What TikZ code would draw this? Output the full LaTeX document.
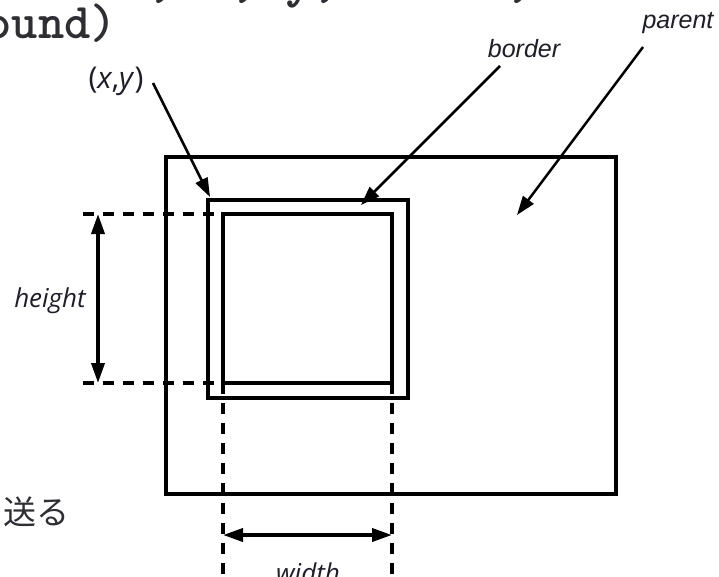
\documentclass[tikz,border=0pt]{standalone}
\usepackage{fontspec}
\usetikzlibrary{arrows.meta}
\setmainfont{Liberation Sans}
\newfontfamily\lblfont{Liberation Sans}
\newfontfamily\dimfont{Open Sans}
\newfontfamily\jpfont{Noto Sans CJK JP}
\definecolor{ink}{HTML}{1E1E28}
\definecolor{codeink}{HTML}{2E2E33}
\begin{document}
\begin{tikzpicture}[x=1pt,y=-1pt,
  frame/.style={draw, line width=3.2pt, inner sep=0pt, outer sep=0pt},
  wbox/.style={draw, line width=4pt, inner sep=0pt, outer sep=0pt},
  dashln/.style={line width=3.6pt, dash pattern=on 11pt off 9pt},
  solidln/.style={line width=4pt},
  dimarrow/.style={line width=3.6pt, {Triangle[length=20pt,width=13pt]}-{Triangle[length=20pt,width=13pt]}},
  pointer/.style={line width=2.5pt, -{Triangle[length=19pt,width=13pt]}},
  lbl/.style={inner sep=0pt, font=\lblfont\itshape\fontsize{25}{25}\selectfont, text=ink},
  dimlbl/.style={inner sep=0pt, font=\dimfont\itshape\fontsize{26}{26}\selectfont, text=ink},
  xylbl/.style={inner sep=0pt, font=\dimfont\fontsize{30}{30}\selectfont, text=ink},
  code/.style={inner sep=0pt, font=\ttfamily\bfseries\addfontfeatures{FakeBold=2}\fontsize{50}{50}\selectfont, text=codeink},
  codetop/.style={inner sep=0pt, font=\ttfamily\bfseries\addfontfeatures{FakeBold=2}\fontsize{52.4}{52}\selectfont, text=codeink},
  jp/.style={inner sep=0pt, font=\jpfont\fontsize{33}{33}\selectfont, text=codeink}
]
\useasboundingbox (0,0) rectangle (719,576);
\fill[white] (0,0) rectangle (719,576);
\clip (0,0) rectangle (719,576);

% clipped code lines
\node[codetop, anchor=base west] (codeA) at (-17.5,-3.5) {parent, x, y, width,};
\node[code, anchor=base east] (codeB) at (117,38) {background)};
\node[jp, anchor=base west] (send) at (3,524) {送る};

% rectangles
\node[frame, minimum width=450pt, minimum height=337pt] (parent) at (391,325.5) {};
\node[wbox, minimum width=200pt, minimum height=198pt] (outer) at (308,299) {};
\node[wbox, minimum width=169pt, minimum height=169pt] (inner) at (307.5,298.5) {};

% extension of inner sides below
\draw[solidln] (inner.south west) -- ++(0,10);
\draw[solidln] (inner.south east) -- ++(0,10);

% dashed guides
\coordinate (hl1) at (83,214);
\coordinate (hl2) at (83,383);
\draw[dashln] (hl1) -- (inner.north west);
\draw[dashln] (hl2) -- (inner.south west);
\coordinate (vl1) at (223,576);
\coordinate (vl2) at (392,576);
\draw[dashln] ([yshift=20pt]inner.south west) -- (vl1);
\draw[dashln] ([yshift=20pt]inner.south east) -- (vl2);

% dimension arrows
\coordinate (ht1) at (98,214);
\coordinate (ht2) at (98,383);
\draw[dimarrow] (ht1) -- (ht2);
\coordinate (wd1) at (223,535);
\coordinate (wd2) at (392,535);
\draw[dimarrow] (wd1) -- (wd2);

% labels
\node[dimlbl, anchor=base east] (hlbl) at (86,307) {height};
\node[dimlbl, anchor=base] (wlbl) at (308,582) {width};
\node[xylbl, anchor=base] (xylab) at (116,88) {(\textit{x},\textit{y})};
\node[lbl, anchor=base] (blbl) at (524,57) {border};
\node[lbl, anchor=base] (plbl) at (678,28) {parent};

% pointers
\coordinate (xyfrom) at (153,83);
\coordinate (xytip) at (210,197);
\draw[pointer] (xyfrom) -- (xytip);
\coordinate (bfrom) at (500,66);
\coordinate (btip) at (361,205);
\draw[pointer] (bfrom) -- (btip);
\coordinate (pfrom) at (643,47);
\coordinate (ptip) at (517,215);
\draw[pointer] (pfrom) -- (ptip);
\end{tikzpicture}
\end{document}
